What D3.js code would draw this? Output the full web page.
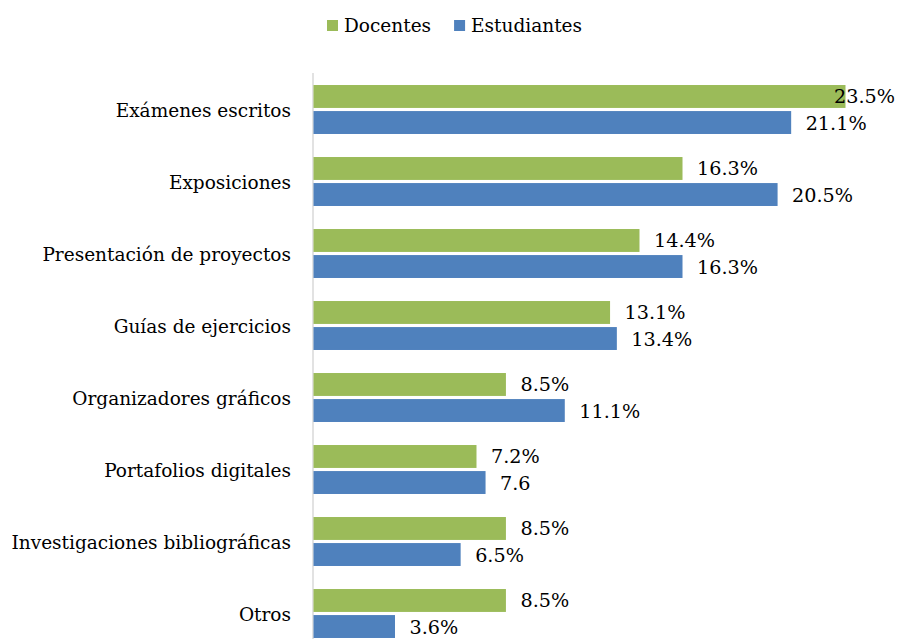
<!DOCTYPE html>
<html><head><meta charset="utf-8">
<script src="https://cdn.jsdelivr.net/npm/d3@7"></script>
<style>body{margin:0;background:#fff}svg{display:block}text{font-family:"DejaVu Serif",serif;fill:#000}</style>
</head><body><svg id="c" width="899" height="639"></svg>
<script>
const categories = ["Exámenes escritos","Exposiciones","Presentación de proyectos","Guías de ejercicios","Organizadores gráficos","Portafolios digitales","Investigaciones bibliográficas","Otros"];
const seriesNames = ["Docentes","Estudiantes"];
const docentes = [23.5,16.3,14.4,13.1,8.5,7.2,8.5,8.5];
const estudiantes = [21.1,20.5,16.3,13.4,11.1,7.6,6.5,3.6];
const docentesLabels = ["23.5%","16.3%","14.4%","13.1%","8.5%","7.2%","8.5%","8.5%"];
const estudiantesLabels = ["21.1%","20.5%","16.3%","13.4%","11.1%","7.6","6.5%","3.6%"];
const colors = ["#9BBB59","#4F81BD"];

const W = 899, H = 639;
const svg = d3.select("#c");
const x0 = 313;
const x = d3.scaleLinear().domain([0, 23.5]).range([x0, 845]);
const y = d3.scaleBand().domain(categories).range([73.5, 73.5 + 72*8]).paddingInner(0.32).paddingOuter(0.16);
const yInner = d3.scaleBand().domain(seriesNames).range([0, y.bandwidth()]).paddingInner(0.12);

// axis line
svg.append("line").attr("x1", x0).attr("x2", x0).attr("y1", 73).attr("y2", H)
  .attr("stroke", "#d9d9d9").attr("stroke-width", 1.5);

const data = [docentes, estudiantes];
const labels = [docentesLabels, estudiantesLabels];

seriesNames.forEach((s, si) => {
  const g = svg.append("g");
  g.selectAll("rect").data(categories).join("rect")
    .attr("x", x0 + 0.5)
    .attr("y", c => y(c) + yInner(s))
    .attr("width", (c, i) => x(data[si][i]) - x0)
    .attr("height", yInner.bandwidth())
    .attr("fill", colors[si]);
  g.selectAll("text").data(categories).join("text")
    .attr("y", c => y(c) + yInner(s) + yInner.bandwidth()/2 + 7)
    .attr("font-size", 19.2)
    .text((c, i) => labels[si][i])
    .attr("x", function(c, i) {
      const w = this.getComputedTextLength();
      return Math.min(x(data[si][i]) + 15, W - 4 - w);
    });
});

// category labels
svg.append("g").selectAll("text").data(categories).join("text")
  .attr("x", 291).attr("text-anchor", "end")
  .attr("y", c => y(c) + y.bandwidth()/2 + 7)
  .attr("font-size", 18.5)
  .text(c => c);

// legend
const leg = svg.append("g");
let lx = 327;
seriesNames.forEach((s, si) => {
  leg.append("rect").attr("x", lx).attr("y", 20).attr("width", 11).attr("height", 11).attr("fill", colors[si]);
  const t = leg.append("text").attr("x", lx + 17).attr("y", 32).attr("font-size", 18.5).text(s);
  lx += 17 + t.node().getComputedTextLength() + 23;
});
</script></body></html>
